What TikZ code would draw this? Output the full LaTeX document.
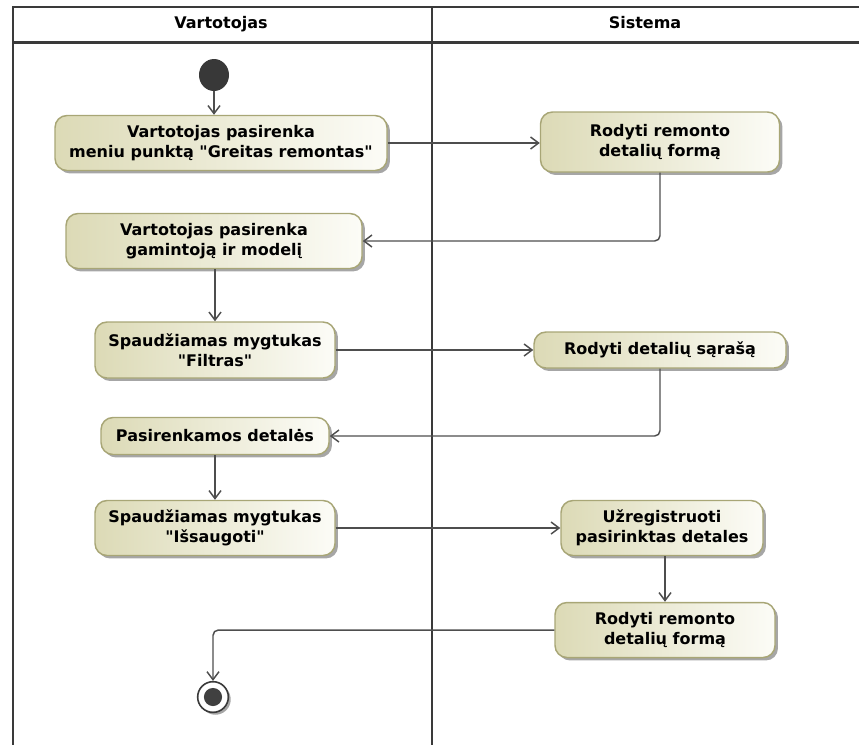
\documentclass[tikz,border=0pt]{standalone}
\usepackage{fontspec}
% no TeX ligatures here, so that " stays a straight quote
\newfontfamily\diagfont{DejaVu Sans}
\usetikzlibrary{arrows.meta,shadows,shapes.geometric}

\definecolor{laneline}{HTML}{3A3A3A}
\definecolor{flow}{HTML}{4E4E4E}
\definecolor{actborder}{HTML}{A8A676}
\definecolor{actdark}{HTML}{DCDAB6}
\definecolor{actlight}{HTML}{FCFCF7}

\tikzset{
  lane/.style={draw=laneline, line width=2.2pt},
  lanehead/.style={font=\diagfont\bfseries\fontsize{12}{15}\selectfont, anchor=base},
  act/.style={rounded corners=9pt, draw=actborder, line width=1.1pt,
    left color=actdark, right color=actlight,
    drop shadow={shadow xshift=2.2pt, shadow yshift=-2.2pt, fill=black, opacity=0.35},
    font=\diagfont\bfseries\fontsize{12}{15}\selectfont, align=center, inner sep=0pt},
  flowline/.style={draw=flow, line width=1.1pt, rounded corners=4pt,
    -{Straight Barb[length=6pt,width=9pt]}},
}

\begin{document}
\begin{tikzpicture}[x=0.75pt,y=-0.75pt]
  \useasboundingbox (0,0) rectangle (859,744);
  \clip (0,0) rectangle (859,744);

  % swimlane frame
  \draw[lane] (13,800) -- (13,7) -- (880,7);
  \draw[lane] (13,42.5) -- (880,42.5);
  \draw[lane] (432,7) -- (432,800);
  \node[lanehead] (laneA) at (221,28.5) {Vartotojas};
  \node[lanehead] (laneB) at (645,28.5) {Sistema};

  % start and end
  \node[ellipse, fill=black!78, minimum width=22.5pt, minimum height=24pt, inner sep=0pt] (init) at (214,75) {};
  \node[circle, draw=laneline, fill=white, line width=1.2pt, minimum size=23pt, inner sep=0pt,
        drop shadow={shadow xshift=1.8pt, shadow yshift=-1.8pt, fill=black, opacity=0.35}] (final) at (213,697) {};
  \fill[black!75] (final.center) circle (6.8pt);

  % activities
  \node[act, minimum width=249pt, minimum height=41.25pt] (a1) at (221,143)
    {Vartotojas pasirenka\\meniu punktą "Greitas remontas"};
  \node[act, minimum width=179.25pt, minimum height=45pt] (s1) at (660,142)
    {Rodyti remonto\\detalių formą};
  \node[act, minimum width=222pt, minimum height=41.25pt] (a3) at (214,241)
    {Vartotojas pasirenka\\gamintoją ir modelį};
  \node[act, minimum width=180pt, minimum height=42pt] (a4) at (215,350)
    {Spaudžiamas mygtukas\\"Filtras"};
  \node[act, minimum width=189pt, minimum height=27pt] (s2) at (660,350)
    {Rodyti detalių sąrašą};
  \node[act, minimum width=171pt, minimum height=27.75pt] (a6) at (215,436)
    {Pasirenkamos detalės};
  \node[act, minimum width=180pt, minimum height=41.25pt] (a7) at (215,528)
    {Spaudžiamas mygtukas\\"Išsaugoti"};
  \node[act, minimum width=151.5pt, minimum height=41.25pt] (s3) at (662,528)
    {Užregistruoti\\pasirinktas detales};
  \node[act, minimum width=165pt, minimum height=41.25pt] (s4) at (665,630)
    {Rodyti remonto\\detalių formą};

  % control flows
  \draw[flowline] (init) -- (init |- a1.north);
  \draw[flowline] (a1.east) -- (a1.east -| s1.west);
  \draw[flowline] (s1.south) |- (a3.east);
  \draw[flowline] (a3.south -| a4.north) -- (a4.north);
  \draw[flowline] (a4.east) -- (a4.east -| s2.west);
  \draw[flowline] (s2.south) |- (a6.east);
  \draw[flowline] (a6) -- (a7);
  \draw[flowline] (a7.east) -- (a7.east -| s3.west);
  \draw[flowline] (s3.south -| s4.north) -- (s4.north);
  \draw[flowline] (s4.west) -| (final.north);
\end{tikzpicture}
\end{document}
